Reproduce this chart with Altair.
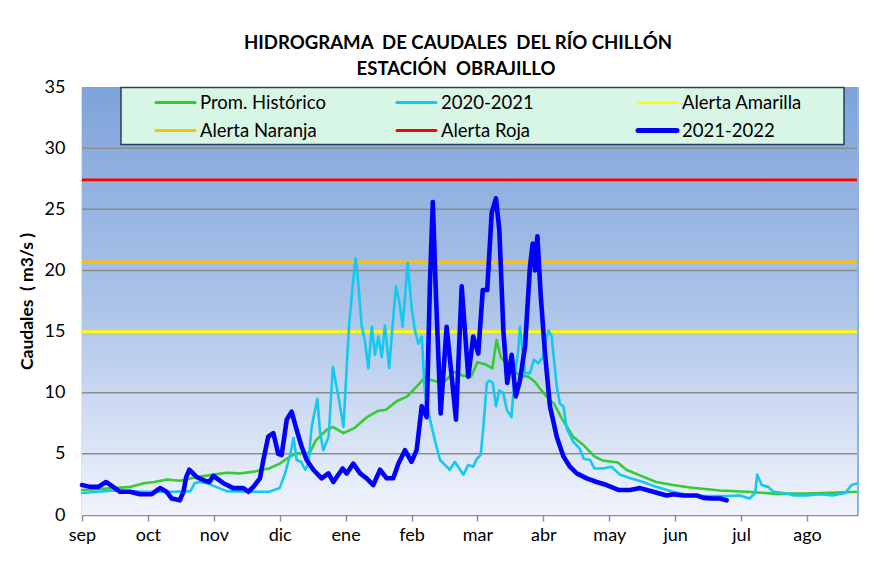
import altair as alt
import pandas as pd

# ---------------- data ----------------
month_labels = ["sep", "oct", "nov", "dic", "ene", "feb", "mar", "abr", "may", "jun", "jul", "ago"]
tick_days = [0, 31, 62, 93, 124, 155, 186, 217, 248, 279, 310, 341]

series_names = ["Prom. Histórico", "2020-2021", "2021-2022"]

days_prom = [0, 15, 23, 29, 34, 40, 46, 54, 62, 68, 74, 81, 85, 88, 93, 98, 101, 107, 110, 115,
             118, 123, 128, 134, 139, 143, 148, 153, 159, 161, 165, 170, 175, 179, 183, 186, 190,
             193, 195, 197, 201, 206, 210, 213, 216, 220, 222, 226, 231, 236, 241, 245, 252, 256,
             263, 270, 278, 286, 300, 313, 325, 341, 365]
q_prom = [2.05, 2.2, 2.3, 2.6, 2.7, 2.9, 2.8, 3.1, 3.3, 3.45, 3.4, 3.55, 3.7, 3.8, 4.2, 4.8, 5.05,
          5.05, 6.1, 6.95, 7.2, 6.7, 7.1, 8.0, 8.5, 8.6, 9.3, 9.7, 10.8, 11.2, 11.0, 10.8, 11.7,
          11.4, 11.3, 12.5, 12.3, 12.0, 14.3, 12.9, 12.1, 11.4, 11.3, 10.9, 10.2, 9.4, 9.1, 7.8,
          6.4, 5.7, 4.8, 4.45, 4.3, 3.7, 3.2, 2.7, 2.45, 2.25, 2.0, 1.9, 1.75, 1.75, 1.9]

days_2021 = [0, 7, 15, 30, 43, 51, 53, 55, 59, 63, 68, 78, 88, 93, 95.5, 98, 99.5, 101, 103, 105,
             106.5, 108, 110.7, 112, 113.5, 116, 118, 120.6, 123, 124.5, 125.7, 127.3, 128.7, 130,
             131.6, 133, 134.7, 136.3, 137.8, 139.4, 141, 142.5, 144.5, 146, 147.7, 149.3, 150.8,
             153.2, 155, 156.6, 158.2, 159.8, 161.3, 163.7, 166, 168.4, 170.7, 173, 175.4, 177.8,
             179.4, 181.7, 184, 185.7, 187.5, 188.8, 190.4, 191.6, 193.2, 194.7, 196.3, 198.2,
             199.8, 202, 203.7, 205.2, 206, 208.4, 210.7, 212.6, 214.6, 216.7, 217.8, 219.4, 220.9,
             223.3, 224.8, 226.4, 228, 231, 234, 236, 239, 241, 245, 249, 253, 258, 264, 270, 278,
             286, 294, 303, 309.5, 314, 316.6, 317.6, 319.7, 322.8, 325.2, 330, 335, 341, 347, 353,
             359, 362, 365]
q_2021 = [1.8, 1.9, 2.0, 1.9, 1.9, 1.95, 2.6, 2.7, 2.6, 2.3, 1.95, 1.9, 1.9, 2.2, 3.4, 5.0, 6.3,
          4.5, 4.35, 3.7, 4.2, 7.2, 9.5, 6.7, 5.3, 6.4, 12.1, 9.7, 7.2, 12.1, 15.7, 18.7, 21.0, 18.9,
          15.4, 14.3, 12.0, 15.4, 13.1, 14.6, 12.9, 15.5, 12.0, 15.4, 18.7, 17.4, 15.4, 20.6, 17.0,
          15.1, 14.0, 14.6, 9.95, 7.8, 6.1, 4.5, 4.1, 3.7, 4.35, 3.7, 3.3, 4.1, 3.95, 4.6, 4.9, 7.2,
          10.8, 11.0, 10.8, 8.9, 10.2, 9.95, 8.6, 8.0, 11.6, 13.5, 15.4, 11.6, 11.6, 12.7, 12.4,
          12.9, 14.0, 15.1, 14.6, 10.5, 9.1, 8.9, 7.1, 6.0, 5.45, 4.6, 4.5, 3.8, 3.8, 3.95, 3.3,
          3.0, 2.7, 2.3, 1.9, 1.6, 1.55, 1.55, 1.6, 1.35, 1.8, 3.3, 2.45, 2.3, 1.9, 1.8, 1.6, 1.6,
          1.7, 1.6, 1.8, 2.45, 2.6]

days_2122 = [0, 3.8, 7.7, 11.3, 14.7, 17.9, 22.6, 27.3, 32.8, 36.7, 39.8, 42.2, 46, 47.7, 49, 50.5,
             54, 57.9, 59.9, 61.8, 66.5, 71.2, 75.9, 78.2, 80.6, 83.7, 85.3, 87.6, 90, 92.3, 93.9,
             96.3, 98.6, 101, 103.3, 105.7, 108.8, 112.7, 115.9, 118.2, 122.6, 124.5, 127.6, 130.8,
             133.9, 137, 140.2, 143.3, 146.4, 148.8, 151.9, 155, 157.4, 159.8, 162.1, 163.7, 165,
             166.5, 168.7, 171.5, 173.9, 175.9, 178.6, 181.7, 184, 186.4, 188.5, 190.6, 192.7,
             194.7, 196.3, 198.2, 200, 202.1, 204, 206, 208.4, 210.7, 212, 213.1, 214.2, 215.8,
             217.8, 220.1, 221.5, 223.3, 226.4, 229.5, 232.7, 237.4, 242.1, 246.8, 252.3, 257.8,
             262.5, 268.7, 275, 278.1, 282.8, 289.1, 292.2, 296.2, 300.1, 303.2]
q_2122 = [2.45, 2.3, 2.3, 2.7, 2.3, 1.9, 1.9, 1.7, 1.7, 2.2, 1.9, 1.35, 1.2, 1.9, 3.1, 3.7, 3.1,
          2.8, 2.7, 3.2, 2.6, 2.2, 2.2, 1.9, 2.3, 3.0, 4.5, 6.4, 6.7, 5.0, 4.9, 7.8, 8.45, 6.95, 5.6,
          4.5, 3.7, 3.0, 3.4, 2.7, 3.8, 3.4, 4.2, 3.4, 3.0, 2.45, 3.7, 3.0, 3.0, 4.2, 5.3, 4.35,
          5.3, 8.9, 8.0, 19.2, 25.6, 17.9, 8.3, 15.4, 11.3, 7.8, 18.7, 11.3, 14.6, 13.2, 18.4, 18.4,
          24.7, 25.9, 23.3, 15.1, 10.8, 13.1, 9.7, 11.0, 13.8, 20.3, 22.2, 20.0, 22.8, 17.85, 13.2,
          8.9, 7.8, 6.4, 4.8, 3.95, 3.4, 3.0, 2.7, 2.45, 2.05, 2.05, 2.2, 1.9, 1.6, 1.7, 1.6, 1.6,
          1.4, 1.35, 1.35, 1.2]

alert_names = ["Alerta Amarilla", "Alerta Naranja", "Alerta Roja"]
alert_levels = [15.0, 20.7, 27.4]

grid_values = [5, 10, 15, 20, 25, 30]
y_ticks = [0, 5, 10, 15, 20, 25, 30, 35]

# ---------------- styles ----------------
FONT = "Lato"
W, H = 776, 428
series_colors = {"Prom. Histórico": "#33cc33", "2020-2021": "#14c8f0", "2021-2022": "#0000ff"}
series_widths = {"Prom. Histórico": 2.6, "2020-2021": 2.6, "2021-2022": 4.6}
alert_colors = {"Alerta Amarilla": "#ffff00", "Alerta Naranja": "#ffc000", "Alerta Roja": "#ff0000"}

rows = []
for name, dd, qq in [(series_names[0], days_prom, q_prom),
                     (series_names[1], days_2021, q_2021),
                     (series_names[2], days_2122, q_2122)]:
    for d, q in zip(dd, qq):
        rows.append({"dia": d, "caudal": q, "serie": name})
df = pd.DataFrame(rows)

alerts_df = pd.DataFrame({"alerta": alert_names, "caudal": alert_levels,
                          "color": [alert_colors[a] for a in alert_names]})
grid_df = pd.DataFrame({"caudal": grid_values})

label_array = "[" + ",".join("'%s'" % m for m in month_labels) + "]"
Y_TITLE = "Caudales\u00a0 ( m3/s )"

x_enc = alt.X(
    "dia:Q",
    scale=alt.Scale(domain=[0, 365], nice=False, zero=False),
    axis=alt.Axis(values=tick_days, labelExpr=label_array + "[round(datum.value / 31)]",
                  title=None, grid=False, domainColor="#8c8c8c", domainWidth=1.5,
                  tickColor="#8c8c8c", tickSize=6, tickWidth=1.5,
                  labelFont=FONT, labelFontSize=18, labelColor="#000000", labelPadding=5,
                  labelFlush=False),
)
y_axis = alt.Axis(values=y_ticks, title=Y_TITLE, grid=False, ticks=False,
                  domainColor="#8c8c8c", domainWidth=1.5,
                  labelFont=FONT, labelFontSize=18, labelColor="#000000", labelPadding=17,
                  titleFont=FONT, titleFontSize=17.5, titleFontWeight="bold", titleColor="#000000",
                  titlePadding=8)
y_enc = alt.Y("caudal:Q", scale=alt.Scale(domain=[0, 35], nice=False), axis=y_axis,
              title=Y_TITLE)

one = alt.Data(values=[{"k": 1}])

background = alt.Chart(one).mark_rect(
    color=alt.Gradient(gradient="linear",
                       stops=[alt.GradientStop(color="#7ea3da", offset=0),
                              alt.GradientStop(color="#aac2e8", offset=0.5),
                              alt.GradientStop(color="#f1f4fc", offset=1)],
                       x1=0, x2=0, y1=0, y2=1)
).encode(x=alt.value(0), x2=alt.value(W), y=alt.value(0), y2=alt.value(H))

grid = alt.Chart(grid_df).mark_rule(color="#8c8c8c", strokeWidth=1.5).encode(y=y_enc)

alerts = alt.Chart(alerts_df).mark_rule(strokeWidth=2.8).encode(
    y=y_enc,
    color=alt.Color("color:N", scale=None, legend=None))

def series_layer(name):
    return alt.Chart(df).transform_filter(alt.datum.serie == name).mark_line(
        color=series_colors[name], strokeWidth=series_widths[name],
        strokeJoin="round", strokeCap="round", interpolate="linear"
    ).encode(x=x_enc, y=y_enc)

lines = [series_layer(series_names[0]), series_layer(series_names[1]), series_layer(series_names[2])]

right_edge = alt.Chart(one).mark_rule(color="#8db3e2", strokeWidth=2).encode(
    x=alt.value(W), y=alt.value(0), y2=alt.value(H))

# ----- legend box (decoration) -----
legend_labels = ["Prom. Histórico", "2020-2021", "Alerta Amarilla",
                 "Alerta Naranja", "Alerta Roja", "2021-2022"]
legend_colors = ["#33cc33", "#14c8f0", "#ffff00", "#ffc000", "#ff0000", "#0000ff"]
legend_widths = [3, 3, 3, 3, 3, 5]
col_x = [74, 315, 556]
row_y = [15.5, 43.5]

legend_box = alt.Chart(one).mark_rect(fill="#d8f6e6", stroke="#2a3f5f", strokeWidth=1.5).encode(
    x=alt.value(39), x2=alt.value(762), y=alt.value(0.5), y2=alt.value(57.5))
legend_layers = [legend_box]
for i, lab in enumerate(legend_labels):
    cx = col_x[i % 3]
    ry = row_y[i // 3]
    legend_layers.append(alt.Chart(one).mark_rule(
        color=legend_colors[i], strokeWidth=legend_widths[i], strokeCap="round").encode(
        x=alt.value(cx), x2=alt.value(cx + 39), y=alt.value(ry)))
    legend_layers.append(alt.Chart(one).mark_text(
        align="left", baseline="middle", font=FONT, fontSize=18.5, color="#000000").encode(
        x=alt.value(cx + 44), y=alt.value(ry), text=alt.value(lab)))

titles = [
    alt.Chart(one).mark_text(font=FONT, fontSize=18.6, fontWeight="bold", color="#000000",
                             align="center", baseline="middle").encode(
        x=alt.value(376), y=alt.value(-44),
        text=alt.value("HIDROGRAMA\u00a0 DE CAUDALES\u00a0 DEL RÍO CHILLÓN")),
    alt.Chart(one).mark_text(font=FONT, fontSize=18.6, fontWeight="bold", color="#000000",
                             align="center", baseline="middle").encode(
        x=alt.value(374), y=alt.value(-18), text=alt.value("ESTACIÓN\u00a0 OBRAJILLO")),
]

chart = alt.layer(
    background, grid, alerts, *lines, right_edge, *legend_layers, *titles
).properties(
    width=W, height=H,
    autosize=alt.AutoSizeParams(type="none"),
    padding={"left": 74, "top": 79, "right": 10, "bottom": 45},
).configure_view(stroke=None)

chart.save("out.html", embed_options={"renderer": "svg", "actions": False})
